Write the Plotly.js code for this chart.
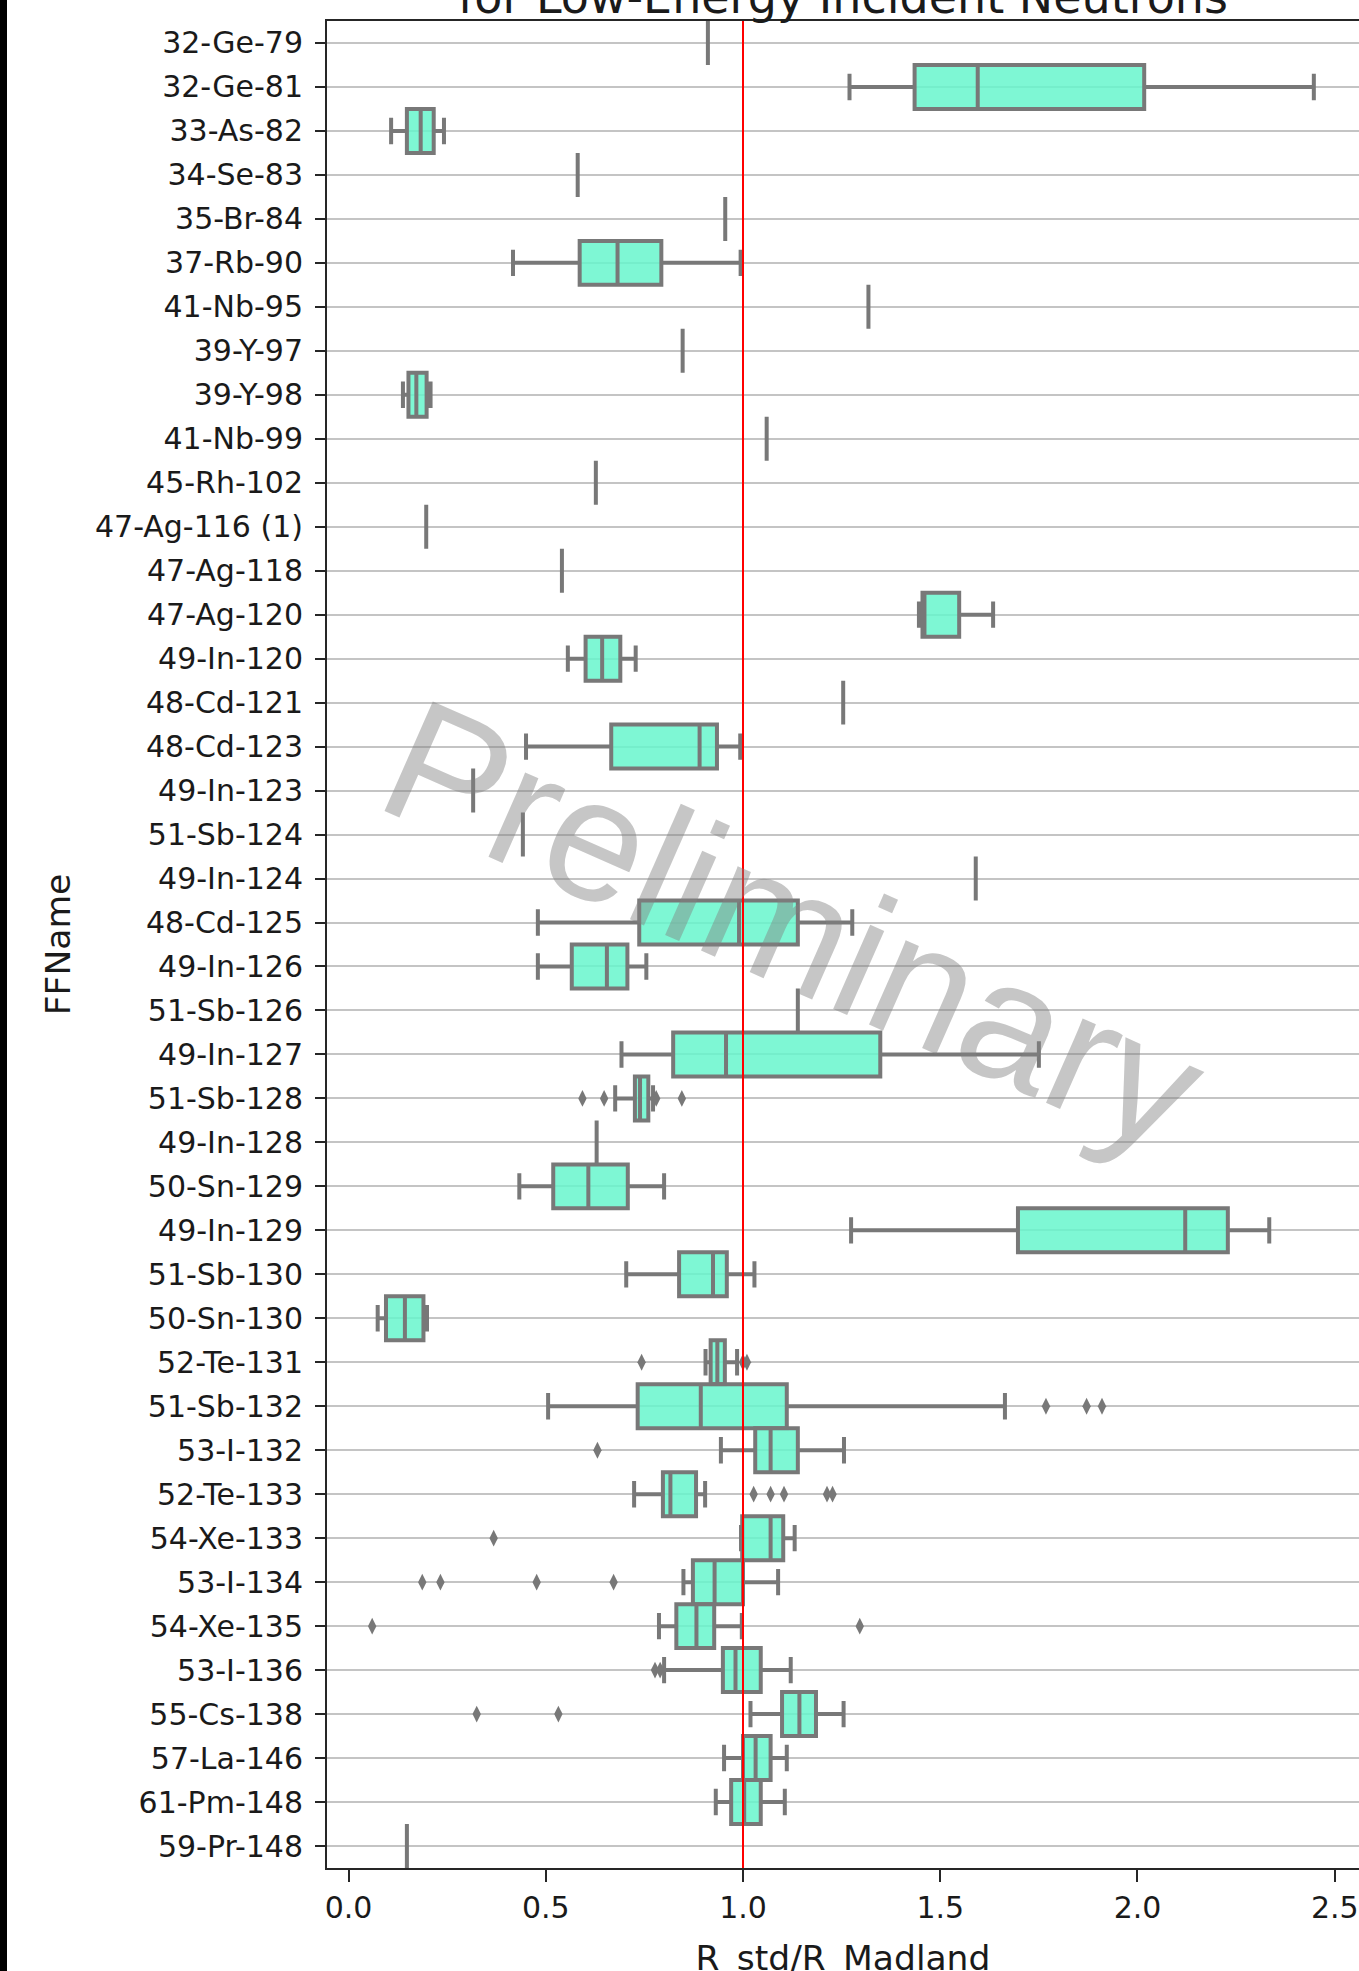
<!DOCTYPE html>
<html>
<head>
<meta charset="utf-8">
<script src="https://cdn.plot.ly/plotly-3.0.1.min.js"></script>
<style>
html,body{margin:0;padding:0;background:#000;width:1359px;height:1971px;overflow:hidden;position:relative}
#chart{position:absolute;left:7px;top:-20px;width:1352px;height:2010px;background:#fff}
</style>
</head>
<body>
<div id="chart"></div>
<script>
// ---- data ----
const names = [
  "32-Ge-79","32-Ge-81","33-As-82","34-Se-83","35-Br-84","37-Rb-90","41-Nb-95","39-Y-97",
  "39-Y-98","41-Nb-99","45-Rh-102","47-Ag-116 (1)","47-Ag-118","47-Ag-120","49-In-120",
  "48-Cd-121","48-Cd-123","49-In-123","51-Sb-124","49-In-124","48-Cd-125","49-In-126",
  "51-Sb-126","49-In-127","51-Sb-128","49-In-128","50-Sn-129","49-In-129","51-Sb-130",
  "50-Sn-130","52-Te-131","51-Sb-132","53-I-132","52-Te-133","54-Xe-133","53-I-134",
  "54-Xe-135","53-I-136","55-Cs-138","57-La-146","61-Pm-148","59-Pr-148"
];
const lowerWhisker = [
  0.911,1.270,0.108,0.581,0.955,0.417,1.318,0.847,
  0.138,1.060,0.627,0.197,0.541,1.446,0.556,
  1.254,0.450,0.316,0.442,1.590,0.480,0.480,
  1.139,0.692,0.676,0.629,0.433,1.274,0.704,
  0.074,0.905,0.506,0.944,0.724,0.995,0.849,
  0.787,0.800,1.019,0.952,0.931,0.148
];
const q1 = [
  0.911,1.435,0.148,0.581,0.955,0.586,1.318,0.847,
  0.152,1.060,0.627,0.197,0.541,1.455,0.601,
  1.254,0.666,0.316,0.442,1.590,0.737,0.566,
  1.139,0.823,0.726,0.629,0.519,1.697,0.838,
  0.095,0.918,0.733,1.031,0.797,0.998,0.873,
  0.831,0.949,1.099,1.000,0.970,0.148
];
const median = [
  0.911,1.595,0.183,0.581,0.955,0.682,1.318,0.847,
  0.172,1.060,0.627,0.197,0.541,1.460,0.643,
  1.254,0.890,0.316,0.442,1.590,0.990,0.655,
  1.139,0.957,0.739,0.629,0.608,2.121,0.924,
  0.143,0.935,0.893,1.070,0.816,1.070,0.928,
  0.882,0.981,1.143,1.032,1.003,0.148
];
const q3 = [
  0.911,2.017,0.216,0.581,0.955,0.793,1.318,0.847,
  0.198,1.060,0.627,0.197,0.541,1.548,0.689,
  1.254,0.934,0.316,0.442,1.590,1.139,0.707,
  1.139,1.348,0.760,0.629,0.708,2.229,0.959,
  0.190,0.954,1.111,1.139,0.881,1.102,1.000,
  0.927,1.045,1.185,1.070,1.045,0.148
];
const upperWhisker = [
  0.911,2.447,0.242,0.581,0.955,0.994,1.318,0.847,
  0.208,1.060,0.627,0.197,0.541,1.634,0.728,
  1.254,0.993,0.316,0.442,1.590,1.277,0.755,
  1.139,1.750,0.772,0.629,0.800,2.334,1.029,
  0.199,0.985,1.664,1.256,0.904,1.131,1.089,
  0.997,1.121,1.255,1.111,1.106,0.148
];
const outlierNames = [
  "51-Sb-128","51-Sb-128","51-Sb-128","51-Sb-128",
  "52-Te-131","52-Te-131","52-Te-131",
  "51-Sb-132","51-Sb-132","51-Sb-132",
  "53-I-132",
  "52-Te-133","52-Te-133","52-Te-133","52-Te-133","52-Te-133",
  "54-Xe-133",
  "53-I-134","53-I-134","53-I-134","53-I-134",
  "54-Xe-135","54-Xe-135",
  "53-I-136","53-I-136",
  "55-Cs-138","55-Cs-138"
];
const outlierValues = [
  0.593,0.648,0.780,0.845,
  0.743,1.000,1.010,
  1.768,1.871,1.910,
  0.631,
  1.027,1.070,1.104,1.213,1.227,
  0.368,
  0.187,0.233,0.477,0.672,
  0.060,1.296,
  0.777,0.790,
  0.325,0.532
];
const referenceValue = 1.0;
const xTickValues = [0, 0.5, 1.0, 1.5, 2.0, 2.5];
const xTickLabels = ["0.0", "0.5", "1.0", "1.5", "2.0", "2.5"];
const chartTitle = "for Low-Energy Incident Neutrons";
const xTitle = "R_std/R_Madland";
const yTitle = "FFName";
const watermark = "Preliminary";

// ---- styles ----
const FONT = "DejaVu Sans";
const EDGE = "#787878";

const boxTrace = {
  type: "box",
  orientation: "h",
  y: names,
  q1: q1,
  median: median,
  q3: q3,
  lowerfence: lowerWhisker,
  upperfence: upperWhisker,
  boxpoints: false,
  width: 1.0,
  whiskerwidth: 0.6,
  fillcolor: "rgba(103,246,204,0.85)",
  line: { color: EDGE, width: 4 },
  hoverinfo: "skip",
  showlegend: false
};

const outlierTrace = {
  type: "scatter",
  mode: "markers",
  x: outlierValues,
  y: outlierNames,
  marker: { symbol: "diamond-tall", size: 12, color: EDGE, line: { width: 0 } },
  hoverinfo: "skip",
  showlegend: false
};

const layout = {
  width: 1352,
  height: 2010,
  margin: { l: 320, r: 0, t: 41, b: 122, pad: 0 },
  paper_bgcolor: "#ffffff",
  plot_bgcolor: "#ffffff",
  font: { family: FONT, color: "#1a1a1a", size: 30 },
  showlegend: false,
  title: {
    text: chartTitle,
    font: { family: FONT, size: 46, color: "#1a1a1a" },
    xref: "paper", x: 0.5, xanchor: "center",
    yref: "container", y: 0.9915, yanchor: "middle"
  },
  xaxis: {
    range: [-0.0545, 2.5615],
    tickmode: "array",
    tickvals: xTickValues,
    ticktext: xTickLabels,
    ticks: "outside", ticklen: 12, tickwidth: 2, tickcolor: "#262626",
    showline: true, linecolor: "#262626", linewidth: 2, mirror: true,
    showgrid: false, zeroline: false,
    tickfont: { family: FONT, size: 30, color: "#1a1a1a" },
    title: { text: xTitle, font: { family: FONT, size: 34.5, color: "#1a1a1a" }, standoff: 22 },
    automargin: false
  },
  yaxis: {
    type: "category",
    categoryorder: "array",
    categoryarray: names,
    range: [names.length - 0.5, -0.5],
    ticks: "outside", ticklen: 10, tickwidth: 2, tickcolor: "#262626",
    showline: true, linecolor: "#262626", linewidth: 2,
    showgrid: true, gridcolor: "#c4c4c4", gridwidth: 2,
    zeroline: false,
    tickfont: { family: FONT, size: 30, color: "#1a1a1a" },
    ticklabelstandoff: 6,
    title: { text: yTitle, font: { family: FONT, size: 34.5, color: "#1a1a1a" }, standoff: 14 },
    automargin: false
  },
  shapes: [{
    type: "line", xref: "x", yref: "paper",
    x0: referenceValue, x1: referenceValue, y0: 0, y1: 1,
    line: { color: "#ff0000", width: 2 }, layer: "above"
  }],
  annotations: [{
    text: watermark,
    xref: "paper", yref: "paper",
    x: 0.4525, y: 0.5105,
    xanchor: "center", yanchor: "middle",
    showarrow: false,
    textangle: 23.8,
    font: { family: "Liberation Sans", size: 174, color: "rgba(128,128,128,0.45)" }
  }]
};

Plotly.newPlot("chart", [boxTrace, outlierTrace], layout, { staticPlot: true, displayModeBar: false });
</script>
</body>
</html>
